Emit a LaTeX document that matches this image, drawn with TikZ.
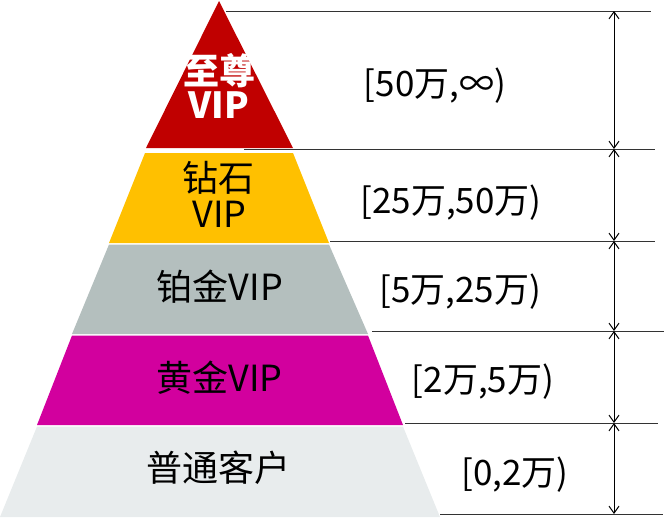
\documentclass[tikz,border=0pt]{standalone}
\usepackage{fontspec}
\setmainfont{Noto Sans CJK SC}
\usetikzlibrary{arrows.meta}

\definecolor{tierred}{HTML}{C00000}
\definecolor{tiergold}{HTML}{FFC000}
\definecolor{tierplat}{HTML}{B4BFBE}
\definecolor{tiermag}{HTML}{D2009E}
\definecolor{tierbase}{HTML}{E8ECED}

\begin{document}
\begin{tikzpicture}[
  x=1pt,
  y=-1pt,
  font=\fontsize{35}{38}\selectfont,
  tier/.style={inner sep=0pt, anchor=base, black, font=\fontsize{36}{38}\selectfont},
  toptier/.style={inner sep=0pt, anchor=base, white, font=\fontsize{36}{38}\selectfont\bfseries},
  rangelabel/.style={inner sep=0pt, anchor=base, black},
  rule/.style={black!80, line width=0.9pt},
  span/.style={black, line width=1pt,
    {Straight Barb[length=7pt,width=10pt]}-{Straight Barb[length=7pt,width=10pt]}},
]
  \useasboundingbox (0,0) rectangle (664,517);

  % rules on the right
  \foreach \i/\y/\xa/\xb in {0/11/226/651, 1/149/244/655, 2/241/330/655,
                             3/331/372/664, 4/423/405/658, 5/514/440/663} {
    \draw[rule] (\xa,\y) -- (\xb,\y);
    \coordinate (t\i) at (614,\y);
  }

  % arrows between the rules
  \foreach \i/\j in {0/1, 1/2, 2/3, 3/4, 4/5}
    \draw[span] (t\i) -- (t\j);

  % pyramid
  \fill[tierred] (219,1) -- (293,148) -- (146,148) -- cycle;
  \fill[tiergold] (145,153) -- (293,153) -- (329,243) -- (109,243) -- cycle;
  \fill[tierplat] (109,244.5) -- (329,244.5) -- (368,334) -- (72,334) -- cycle;
  \fill[tiermag] (72,335.5) -- (368,335.5) -- (403,425) -- (37,425) -- cycle;
  \fill[tierbase] (37,426.5) -- (403,426.5) -- (440,517) -- (0,517) -- cycle;

  % tier names
  \node[toptier, text depth=0pt] (top1) at (219,84) {至尊};
  \node[toptier, text height=26pt] (top2) at (219,118.5) {VIP};
  \node[tier, text depth=0pt] (gold1) at (218,191) {钻石};
  \node[tier, text height=27pt] (gold2) at (219.5,227) {VIP};
  \node[tier] (plat) at (220,300) {铂金VIP};
  \node[tier] (mag) at (219.5,391) {黄金VIP};
  \node[tier] (base) at (218,481) {普通客户};

  % ranges
  \node[rangelabel] (r0) at (435,96) {[50万,∞)};
  \node[rangelabel] (r1) at (451,213) {[25万,50万)};
  \node[rangelabel] (r2) at (460,302) {[5万,25万)};
  \node[rangelabel] (r3) at (483,392) {[2万,5万)};
  \node[rangelabel] (r4) at (515,485) {[0,2万)};
\end{tikzpicture}
\end{document}
